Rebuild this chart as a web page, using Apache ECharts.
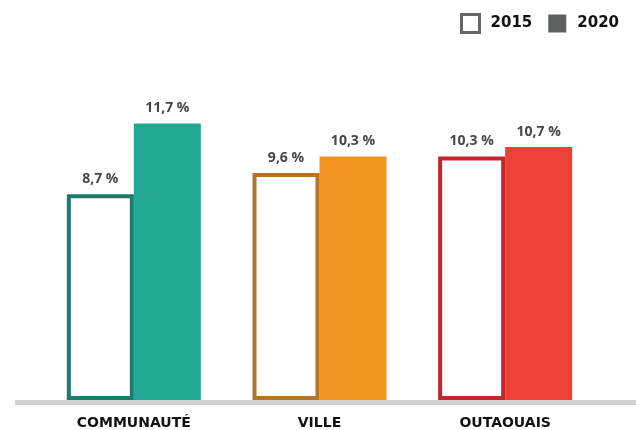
<!DOCTYPE html>
<html>
<head>
<meta charset="utf-8">
<script src="https://cdn.jsdelivr.net/npm/echarts@6/dist/echarts.min.js"></script>
<style>
  html, body { margin: 0; padding: 0; background: #fff; }
  #chart { width: 636px; height: 430px; }
</style>
</head>
<body>
<div id="chart"></div>
<script>
const categories = ["COMMUNAUTÉ", "VILLE", "OUTAOUAIS"];
const values2015 = [8.7, 9.6, 10.3];
const values2020 = [11.7, 10.3, 10.7];
const outlineColors = ["#1e7a6b", "#b5732b", "#c1272d"];
const fillColors = ["#22a795", "#f39322", "#ee4036"];

const fmt = (v) => v.toFixed(1).replace(".", ",") + " %";

const chart = echarts.init(document.getElementById("chart"));

const labelStyle = {
  show: true,
  position: "top",
  distance: 8,
  fontFamily: "Open Sans",
  fontWeight: "bold",
  fontSize: 14,
  color: "#474747",
  formatter: (p) => fmt(p.value),
};

chart.setOption({
  animation: false,
  legend: {
    right: 12,
    top: 8,
    itemWidth: 18,
    itemHeight: 18,
    itemGap: 16,
    textStyle: {
      fontFamily: "DejaVu Sans",
      fontWeight: "bold",
      fontSize: 15,
      color: "#111",
      padding: [0, 0, 0, 6],
    },
    data: [
      { name: "2015", icon: "rect", itemStyle: { color: "#fff", borderColor: "#666", borderWidth: 3 } },
      { name: "2020", icon: "rect", itemStyle: { color: "#5f6061", borderWidth: 0 } },
    ],
  },
  grid: { left: 41, right: 38, top: 69, bottom: 27 },
  xAxis: {
    type: "category",
    data: categories,
    axisLine: { show: false },
    axisTick: { show: false },
    axisLabel: {
      margin: 16,
      fontFamily: "DejaVu Sans",
      fontWeight: "bold",
      fontSize: 14,
      color: "#111",
    },
  },
  yAxis: {
    type: "value",
    min: 0,
    max: 14,
    show: false,
    splitLine: { show: false },
  },
  series: [
    {
      name: "2015",
      type: "bar",
      z: 3,
      barWidth: 67,
      barGap: 0,
      itemStyle: { color: "#fff", borderColor: "#666", borderWidth: 4 },
      label: labelStyle,
      data: values2015.map((v, i) => ({
        value: v,
        itemStyle: { color: "#fff", borderColor: outlineColors[i], borderWidth: 4 },
      })),
    },
    {
      name: "2020",
      type: "bar",
      z: 2,
      barWidth: 67,
      itemStyle: { color: "#5f6061" },
      label: labelStyle,
      data: values2020.map((v, i) => ({
        value: v,
        itemStyle: { color: fillColors[i] },
      })),
    },
  ],
  graphic: [
    {
      type: "rect",
      z: 100,
      shape: { x: 15, y: 400, width: 621, height: 5 },
      style: { fill: "#d1d1d1" },
    },
  ],
});
</script>
</body>
</html>
